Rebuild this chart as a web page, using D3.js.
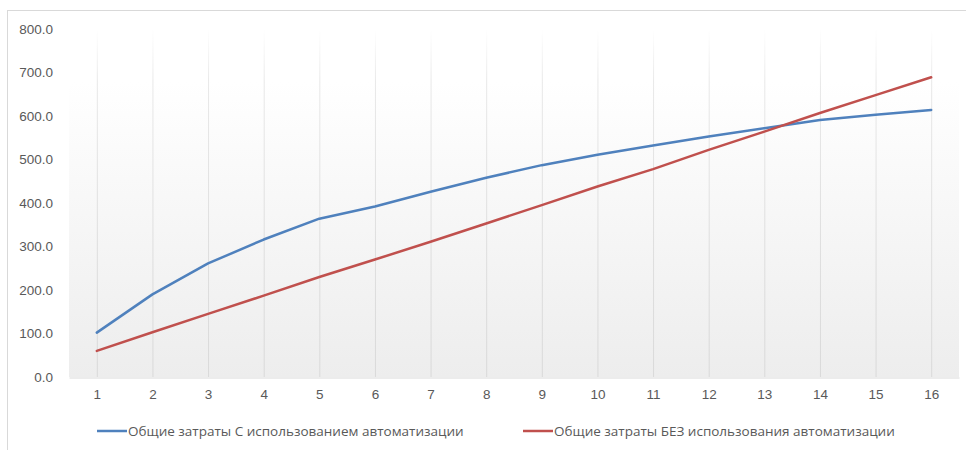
<!DOCTYPE html>
<html>
<head>
<meta charset="utf-8">
<script src="https://cdn.jsdelivr.net/npm/d3@7"></script>
<style>
  body { margin: 0; background: #fff; }
  svg { display: block; font-family: "Open Sans", "DejaVu Sans", sans-serif; }
</style>
</head>
<body>
<div id="chart"></div>
<script>
// données
const periods = [1, 2, 3, 4, 5, 6, 7, 8, 9, 10, 11, 12, 13, 14, 15, 16];
const withAuto = [102, 190, 261, 316, 364, 392, 426, 458, 487, 511, 532, 553, 572, 591, 603, 614];
const withoutAuto = [60, 103, 145, 187, 230, 270, 311, 353, 395, 438, 478, 522, 564, 607, 648, 689];
const yTicks = [0, 100, 200, 300, 400, 500, 600, 700, 800];
const seriesNames = [
  "Общие затраты С использованием автоматизации",
  "Общие затраты БЕЗ использования автоматизации"
];
const seriesColors = ["#4f81bd", "#c0504d"];

const width = 966, height = 450;
const margin = { top: 29, right: 7, bottom: 73, left: 69 };

const svg = d3.select("#chart").append("svg")
  .attr("width", width)
  .attr("height", height);

// cadre du graphique
svg.append("rect")
  .attr("x", 7.5).attr("y", 10.5)
  .attr("width", width + 10).attr("height", height + 10)
  .attr("fill", "#fff")
  .attr("stroke", "#d9d9d9");

const x = d3.scalePoint()
  .domain(periods)
  .range([margin.left, width - margin.right])
  .padding(0.5);

const y = d3.scaleLinear()
  .domain([0, 800])
  .range([height - margin.bottom, margin.top]);

// dégradés : fond de la zone de tracé et lignes verticales
const defs = svg.append("defs");
const grad = defs.append("linearGradient")
  .attr("id", "bg").attr("x1", 0).attr("y1", 0).attr("x2", 0).attr("y2", 1);
grad.append("stop").attr("offset", "0%").attr("stop-color", "#ffffff");
grad.append("stop").attr("offset", "15%").attr("stop-color", "#ffffff");
grad.append("stop").attr("offset", "100%").attr("stop-color", "#ededed");

const gridGrad = defs.append("linearGradient")
  .attr("id", "gridfade").attr("gradientUnits", "userSpaceOnUse")
  .attr("x1", 0).attr("y1", y(800)).attr("x2", 0).attr("y2", y(0));
gridGrad.append("stop").attr("offset", "0%").attr("stop-color", "#d9d9d9").attr("stop-opacity", 0);
gridGrad.append("stop").attr("offset", "15%").attr("stop-color", "#d9d9d9").attr("stop-opacity", 0.6);
gridGrad.append("stop").attr("offset", "100%").attr("stop-color", "#d9d9d9").attr("stop-opacity", 1);

svg.append("rect")
  .attr("x", margin.left).attr("y", margin.top)
  .attr("width", width - margin.right - margin.left)
  .attr("height", y(0) - margin.top)
  .attr("fill", "url(#bg)");

// lignes verticales
svg.append("g")
  .selectAll("rect")
  .data(periods)
  .join("rect")
  .attr("x", d => x(d)).attr("width", 1)
  .attr("y", y(800)).attr("height", y(0) - y(800))
  .attr("fill", "url(#gridfade)");

// axe X
const xAxis = svg.append("g")
  .attr("transform", `translate(0,${y(0) + 0.5})`)
  .call(d3.axisBottom(x).tickSize(0).tickPadding(12));
xAxis.select(".domain").attr("stroke", "#d9d9d9");
xAxis.selectAll("text").style("font-size", "13.5px").attr("fill", "#595959")
  .style("font-family", "inherit");

// axe Y
const yAxis = svg.append("g")
  .attr("transform", `translate(${margin.left},0)`)
  .call(d3.axisLeft(y).tickValues(yTicks).tickSize(0).tickPadding(16).tickFormat(d3.format(".1f")));
yAxis.select(".domain").remove();
yAxis.selectAll("text").style("font-size", "13.5px").attr("fill", "#595959")
  .style("font-family", "inherit");

// courbes
const line = d3.line()
  .x((d, i) => x(periods[i]))
  .y(d => y(d));

[withAuto, withoutAuto].forEach((vals, i) => {
  svg.append("path")
    .datum(vals)
    .attr("fill", "none")
    .attr("stroke", seriesColors[i])
    .attr("stroke-width", 2.5)
    .attr("stroke-linejoin", "round")
    .attr("stroke-linecap", "round")
    .attr("d", line);
});

// légende
const legendX = [97, 523];
const legend = svg.append("g")
  .selectAll("g")
  .data(seriesNames)
  .join("g")
  .attr("transform", (d, i) => `translate(${legendX[i]},431)`);
legend.append("line")
  .attr("x1", 0).attr("x2", 30)
  .attr("stroke", (d, i) => seriesColors[i])
  .attr("stroke-width", 2.5);
legend.append("text")
  .attr("x", 31).attr("dy", "0.35em")
  .attr("fill", "#595959")
  .style("font-size", "13.5px")
  .text(d => d);
</script>
</body>
</html>
